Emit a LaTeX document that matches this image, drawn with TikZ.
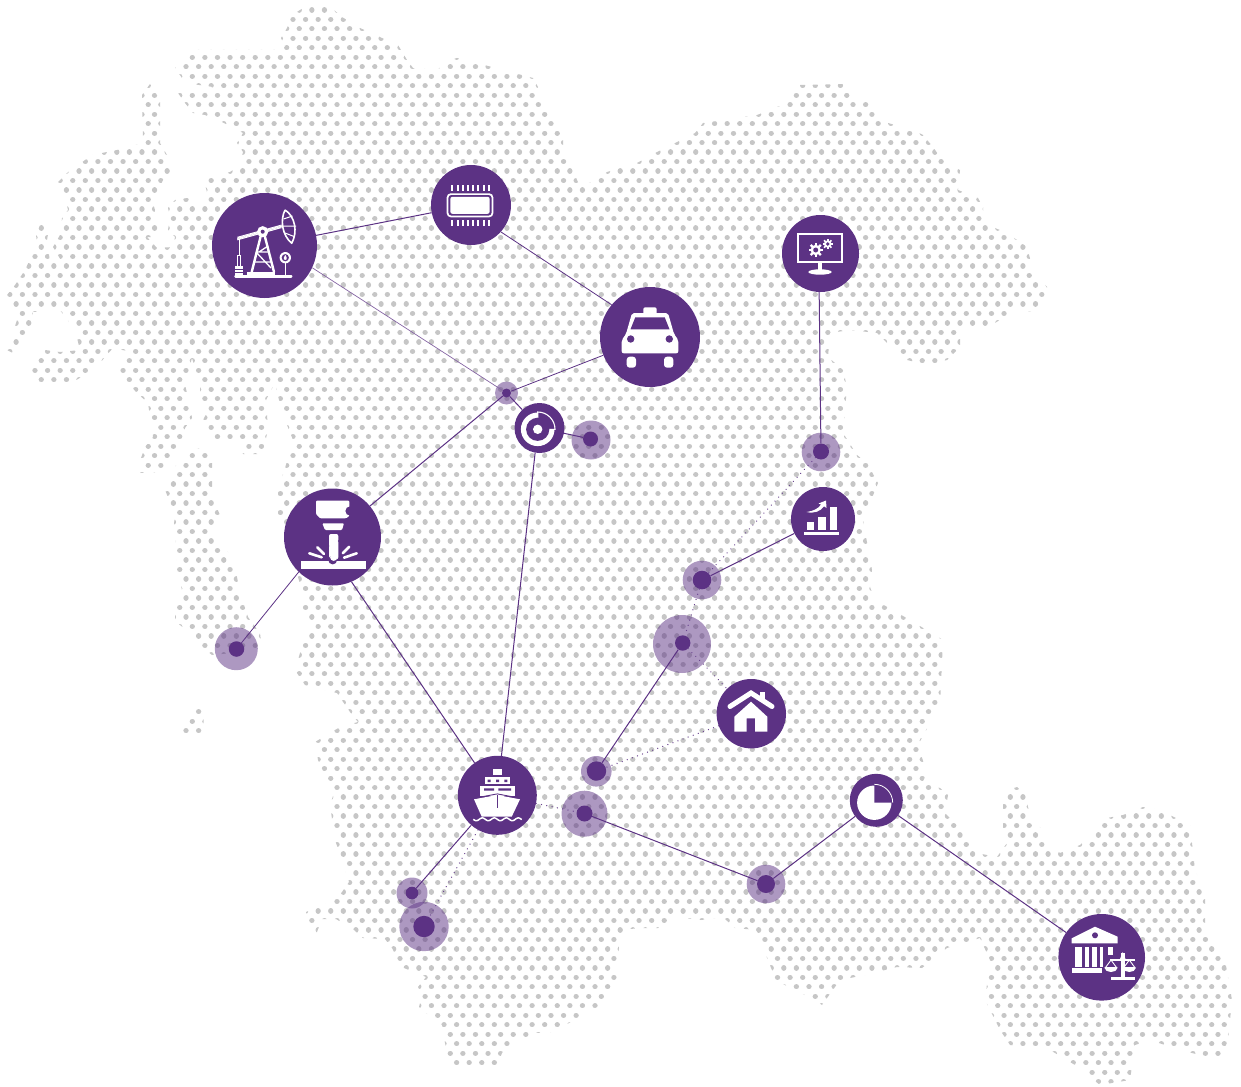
\documentclass[tikz,border=0pt]{standalone}
\usetikzlibrary{calc}
\definecolor{purp}{HTML}{5C3284}
\definecolor{dotgrey}{HTML}{C6C6C6}
\tikzset{
  hub/.style={circle,fill=purp,draw=none,inner sep=0pt,minimum size=#1},
  halo/.style={circle,fill=purp,fill opacity=.5,draw=none,inner sep=0pt,minimum size=#1},
  core/.style={circle,fill=purp,draw=none,inner sep=0pt,minimum size=#1},
  link/.style={draw=purp,line width=1pt},
  thinlink/.style={draw=purp!75,line width=.7pt},
  dotlink/.style={draw=purp!90,line width=1.4pt,line cap=round,dash pattern=on 0.01pt off 5.4pt},
  dotrow/.style={draw=dotgrey,line width=5.3pt,line cap=round,dash pattern=on 0.01pt off 12.575pt},
  ic/.style={fill=white,draw=none},
  cut/.style={fill=purp,draw=none},
  icl/.style={draw=white,line width=#1},
  cutl/.style={draw=purp,line width=#1}
}
\newcommand{\gearshape}[4]{% x,y,r,hole
  \foreach \ang in {0,45,...,315}{\draw[icl=#4*0.9] (#1,#2) -- ($(#1,#2)+(\ang:#3)$);}
  \fill[ic] (#1,#2) circle [radius=#3*0.72];
  \fill[cut] (#1,#2) circle [radius=#4];
}
\begin{document}
\begin{tikzpicture}[x=1pt,y=-1pt]
\useasboundingbox (0,0) rectangle (1241,1086);
% ---------- dotted map
\begin{scope}
\clip (312,4)--(300,10)--(292,15)--(287,28)--(281,38)--(285,47)--(278,50)--(250,50)--(198,50)--(190,53)--(175,68)--(182,78)--(192,84)--(213,87)--(205,92)--(178,93)--(185,103)--(193,113)--(205,115)--(222,122)--(243,133)--(237,143)--(243,152)--(240,165)--(230,172)--(208,178)--(205,185)--(207,192)--(200,203)--(187,198)--(175,200)--(168,208)--(170,217)--(168,230)--(175,237)--(173,247)--(157,248)--(147,237)--(157,237)--(160,227)--(153,218)--(155,210)--(152,200)--(157,192)--(163,180)--(170,172)--(167,155)--(160,143)--(160,100)--(150,84)--(142,95)--(143,143)--(117,150)--(92,155)--(67,173)--(58,182)--(63,190)--(68,210)--(62,218)--(60,235)--(53,247)--(62,262)--(50,262)--(47,240)--(50,222)--(40,225)--(36,235)--(38,250)--(32,255)--(25,270)--(15,285)--(7,295)--(9,300)--(13,312)--(17,320)--(12,335)--(7,350)--(13,353)--(22,343)--(32,330)--(33,312)--(60,310)--(75,330)--(77,338)--(80,350)--(60,352)--(45,350)--(37,357)--(30,370)--(37,385)--(68,385)--(88,373)--(100,363)--(105,357)--(113,348)--(132,352)--(118,370)--(128,383)--(137,393)--(148,403)--(150,417)--(152,423)--(153,437)--(145,447)--(141,458)--(140,473)--(160,472)--(178,450)--(185,428)--(192,418)--(190,405)--(185,385)--(188,372)--(192,358)--(196,372)--(200,385)--(200,400)--(207,412)--(203,420)--(212,437)--(215,442)--(240,444)--(243,454)--(262,454)--(268,430)--(266,400)--(275,383)--(279,400)--(285,420)--(293,440)--(290,452)--(278,490)--(278,513)--(302,590)--(302,610)--(312,622)--(300,653)--(295,670)--(305,685)--(325,690)--(337,693)--(350,712)--(358,722)--(340,727)--(315,742)--(318,760)--(325,775)--(335,790)--(330,805)--(335,840)--(342,860)--(349,882)--(342,892)--(335,900)--(306,912)--(308,920)--(311,937)--(317,932)--(322,919)--(336,919)--(354,930)--(363,938)--(385,939)--(392,948)--(397,958)--(404,968)--(426,977)--(418,987)--(422,995)--(419,1007)--(426,1013)--(442,1025)--(445,1043)--(447,1053)--(454,1066)--(497,1066)--(502,1053)--(511,1043)--(536,1033)--(551,1032)--(569,1023)--(579,1017)--(597,1007)--(604,997)--(610,988)--(617,977)--(617,960)--(619,948)--(617,937)--(629,929)--(644,928)--(658,928)--(676,917)--(701,920)--(715,918)--(725,919)--(735,928)--(756,930)--(761,938)--(767,958)--(776,980)--(785,985)--(815,1000)--(822,1005)--(840,980)--(865,975)--(897,967)--(922,968)--(947,948)--(980,938)--(990,960)--(985,1000)--(1000,1030)--(1010,1045)--(1050,1050)--(1075,1065)--(1100,1085)--(1130,1080)--(1135,1045)--(1150,1040)--(1180,1050)--(1220,1060)--(1228,1040)--(1232,1000)--(1225,960)--(1205,925)--(1205,895)--(1195,870)--(1190,825)--(1160,810)--(1143,807)--(1123,815)--(1107,818)--(1097,830)--(1080,845)--(1060,853)--(1048,843)--(1043,830)--(1032,820)--(1028,807)--(1025,795)--(1017,787)--(1008,790)--(1003,803)--(1003,827)--(1007,843)--(1002,850)--(997,857)--(977,853)--(970,845)--(968,837)--(945,813)--(948,795)--(940,788)--(922,783)--(927,773)--(925,767)--(918,745)--(940,705)--(943,640)--(910,620)--(875,600)--(870,587)--(872,570)--(863,520)--(878,483)--(867,463)--(857,455)--(843,433)--(847,387)--(843,370)--(828,357)--(830,333)--(850,330)--(877,333)--(887,343)--(907,360)--(927,365)--(947,360)--(960,347)--(960,330)--(988,327)--(1017,310)--(1035,312)--(1047,297)--(1047,287)--(1033,270)--(1027,247)--(1007,233)--(983,223)--(983,207)--(978,198)--(958,190)--(960,170)--(953,167)--(940,157)--(933,147)--(923,135)--(913,130)--(888,123)--(877,113)--(868,103)--(850,95)--(843,84)--(800,85)--(793,95)--(788,103)--(777,107)--(757,115)--(703,123)--(695,133)--(675,143)--(657,152)--(637,163)--(607,172)--(600,178)--(580,187)--(572,168)--(567,160)--(563,147)--(563,138)--(557,125)--(548,113)--(542,100)--(537,97)--(538,87)--(533,78)--(503,70)--(477,63)--(457,58)--(450,60)--(437,70)--(413,68)--(407,60)--(398,45)--(382,38)--(360,28)--(342,17)--(327,4)--cycle
(192,448)--(212,450)--(212,497)--(220,515)--(213,530)--(220,543)--(228,552)--(233,567)--(237,577)--(240,593)--(243,602)--(248,617)--(260,633)--(262,650)--(212,655)--(202,647)--(195,637)--(180,625)--(175,620)--(175,607)--(182,590)--(177,570)--(175,547)--(177,533)--(174,523)--(175,517)--(170,502)--(165,490)--(173,480)--(176,465)--cycle
(196,706)--(204,710)--(203,735)--(182,736)--(183,726)--(191,716)--cycle;
\foreach \k in {-6,...,108}{
  \pgfmathsetmacro{\rowy}{57.3+9.485*\k}
  \pgfmathsetmacro{\rowx}{3.525+(mod(\k+6,2)==1 ? 6.29 : 0)}
  \draw[dotrow] (\rowx,\rowy) -- (1241,\rowy);
}
\end{scope}
% ---------- halos and dots
\node[halo=23pt] (h1) at (506.5,393) {};      \node[core=9pt]  (d1) at (506.5,393) {};
\node[halo=39pt] (h2) at (591,440) {};        \node[core=15pt] (d2) at (590.5,439) {};
\node[halo=43pt] (h3) at (236.3,648.7) {};    \node[core=15.5pt] (d3) at (236.5,649) {};
\node[halo=38.6pt] (h4) at (821,452) {};      \node[core=16pt] (d4) at (821,451.5) {};
\node[halo=38.6pt] (h5) at (702,580) {};      \node[core=18.6pt] (d5) at (702,580) {};
\node[halo=58pt] (h6) at (682,644) {};        \node[core=15.4pt] (d6) at (682.7,643) {};
\node[halo=30.6pt] (h7) at (596.3,771.3) {};  \node[core=19.4pt] (d7) at (596.5,771) {};
\node[halo=46pt] (h8) at (584.5,813.7) {};    \node[core=16pt] (d8) at (584.5,813.5) {};
\node[halo=31pt] (h9) at (412,893) {};        \node[core=12.6pt] (d9) at (412,893) {};
\node[halo=49.4pt] (h10) at (424,926.5) {};   \node[core=21.4pt] (d10) at (424,926.5) {};
\node[halo=38.6pt] (h11) at (766,884) {};     \node[core=18pt] (d11) at (766,884) {};
% ---------- hubs
\node[hub=105pt] (oil) at (264.5,245.5) {};
\node[hub=80pt] (chip) at (471,205) {};
\node[hub=100pt] (taxi) at (650,337) {};
\node[hub=77pt] (monitor) at (820.5,253.5) {};
\node[hub=50pt] (target) at (539.5,428) {};
\node[hub=97pt] (mill) at (332.5,537) {};
\node[hub=64pt] (bars) at (823,519) {};
\node[hub=69.4pt] (house) at (751.3,713.7) {};
\node[hub=79pt] (ship) at (497.3,795.3) {};
\node[hub=53pt] (pie) at (876.3,800.3) {};
\node[hub=86.6pt] (bank) at (1101.7,957.3) {};
% ---------- connectors
\draw[link] (oil) -- (chip);
\draw[link,line width=.8pt] (chip.-42) -- (taxi.140.8);
\draw[thinlink] (oil.-25) -- (d1);
\draw[link,line width=.8pt] (taxi) -- (d1);
\draw[link] (d1) -- (mill);
\draw[link] (d1) -- (target);
\draw[link] (target) -- (d2);
\draw[link] (target.-100) -- (ship.84.7);
\draw[link,line width=.8pt] (mill.-134) -- (d3);
\draw[link] (mill.-67) -- (ship.125.6);
\draw[link] (monitor.-92) -- (d4);
\draw[link] (bars) -- (d5);
\draw[link] (d6) -- (d7);
\draw[link] (ship) -- (d9);
\draw[link] (d8) -- (d11);
\draw[link] (d11) -- (pie);
\draw[link] (pie) -- (bank);
\draw[dotlink] (d4) -- (d5);
\draw[dotlink] (d5) -- (d6);
\draw[dotlink] (d6) -- (house);
\draw[dotlink] (house) -- (d7);
\draw[dotlink] (ship) -- (d8);
\draw[dotlink] (ship) -- (d10);
% ---------- oil pump icon
\fill[ic,rounded corners=1pt] (234.3,275) rectangle (292.3,277.8);
\fill[ic] (246.7,271.7) rectangle (275,275);
\draw[icl=2.4] (261,235) -- (251.7,272);
\draw[icl=2.4] (264.5,235) -- (274,272);
\draw[icl=1.3] (256,252) -- (269.5,252) (254,262) -- (272,262) (256,252) -- (271,268) (268,246) -- (259,252);
\draw[icl=.9] (237.3,237.3) -- (281.7,225) (237.3,238.6) -- (281.7,226.3) (237.3,239.9) -- (281.7,227.6);
\fill[ic] (262.7,231.7) circle [radius=5.6];
\fill[cut] (262.7,231.7) circle [radius=2];
\draw[icl=1.6,line join=round] (285,210) .. controls (295,216) and (298,232) .. (291.7,243.3) .. controls (282,235) and (280,220) .. (285,210);
\draw[icl=1] (283,226) -- (296,226) (283.5,219) -- (292.5,216) (285,233) -- (294,236.5);
\draw[icl=.9] (239,238.5) -- (239,255);
\fill[ic] (235,266) rectangle (243.3,275);
\draw[cutl=.6] (235,269) -- (243.3,269) (235,272) -- (243.3,272);
\draw[icl=.9] (237.4,255.5) rectangle (240.6,266);
\draw[icl=1.5] (285.3,262) -- (285.3,275);
\fill[ic] (285.3,257.7) circle [radius=5.7];
\fill[cut] (285.3,257.7) circle [radius=3.6];
\fill[ic] (285.3,254.8) .. controls (284,257) and (283.5,258) .. (284,259.3) .. controls (284.6,260.2) and (286,260.2) .. (286.6,259.3) .. controls (287.1,258) and (286.6,257) .. (285.3,254.8);
% ---------- chip icon
\fill[ic,rounded corners=4pt] (446.7,193.3) rectangle (493.3,217.3);
\fill[cut,rounded corners=3pt] (448.4,195) rectangle (491.6,215.6);
\fill[ic,rounded corners=2pt] (450.4,196.8) rectangle (489.6,213.8);
\foreach \i in {0,...,7}{
  \fill[ic] ({451.3+5.2*\i},185) rectangle ({453.3+5.2*\i},190.7);
  \fill[ic] ({451.3+5.2*\i},220) rectangle ({453.3+5.2*\i},225.7);
}
% ---------- taxi icon
\fill[ic,rounded corners=2pt] (643.3,307.3) rectangle (656.7,316);
\fill[ic,rounded corners=2pt] (632,313) -- (668,313) -- (674,334) -- (678.3,340) -- (678.3,353.3) -- (621.7,353.3) -- (621.7,340) -- (626,334) -- cycle;
\fill[cut] (635.3,317.3) -- (664.7,317.3) -- (669.5,329.3) -- (630.5,329.3) -- cycle;
\fill[cut] (630.7,339) circle [radius=3.7];
\fill[cut] (669.3,339) circle [radius=3.7];
\fill[ic,rounded corners=3pt] (626.7,356.7) -- (636,356.7) -- (636,367.7) -- (626.7,367.7) -- cycle;
\fill[ic,rounded corners=3pt] (664,356.7) -- (673.3,356.7) -- (673.3,367.7) -- (664,367.7) -- cycle;
% ---------- monitor icon
\draw[icl=2.6] (798,234) rectangle (842,262);
\fill[ic] (818.3,263) rectangle (822.3,270);
\fill[ic] (820,272) ellipse [x radius=11.7,y radius=2.7];
\gearshape{815.7}{250}{7.2}{2.5}
\gearshape{827.7}{244}{5.2}{1.9}
% ---------- target icon
\fill[ic] (537.7,429.3) circle [radius=16.8];
\fill[cut] (537.7,429.3) -- (537.7,410.5) arc [start angle=-90,end angle=0,radius=18.8] -- cycle;
\draw[icl=1.1] (537.7,429.3) -- (537.7,412) arc [start angle=-90,end angle=0,radius=17.3] -- cycle;
\fill[cut] (537.7,429.3) circle [radius=11.6];
\fill[ic] (537.7,429.3) circle [radius=4.7];
% ---------- milling icon
\fill[ic,rounded corners=1pt] (316,500.7) -- (349.3,500.7) -- (349.3,516) -- (346,518.3) -- (320,518.3) -- (316,514) -- cycle;
\fill[cut] (350,511) circle [radius=4.6];
\fill[ic,rounded corners=1pt] (322.3,523.3) -- (344,523.3) -- (342,530) -- (325,530) -- cycle;
\fill[ic,rounded corners=2pt] (329,534) -- (338.3,534) -- (338.3,559.3) -- (329,559.3) -- cycle;
\fill[cut] (339.5,541) circle [radius=1.6];
\fill[cut] (327.8,546) circle [radius=1.6];
\draw[icl=2.6,line cap=round] (317.3,547.3) -- (324,554);
\draw[icl=2.6,line cap=round] (309.3,553.3) -- (321.7,557.3);
\draw[icl=2.6,line cap=round] (349.3,546.7) -- (342.7,553.3);
\draw[icl=2.6,line cap=round] (356.7,553.3) -- (344,557.7);
\fill[ic] (301,561) rectangle (365.7,569.3);
\fill[cut] (332.7,560) circle [radius=4.4];
\fill[ic] (329,550) rectangle (338.3,556) ;
\fill[ic] (333.7,557.3) circle [radius=3.6];
% ---------- bars icon
\fill[ic] (804,532) rectangle (839,535);
\fill[ic] (807.3,522) rectangle (814,530);
\fill[ic] (818.3,517.3) rectangle (825.7,530);
\fill[ic] (830,507.3) rectangle (836.7,530);
\fill[ic] (806.7,512) .. controls (814,511) and (819,508) .. (821,504.5) -- (818.5,503.5) -- (826,500.5) -- (826.5,508) -- (824,506.3) .. controls (821,511) and (814,514) .. (806.7,512) -- cycle;
% ---------- house icon
\fill[ic] (760,692.3) rectangle (765,701);
\draw[icl=5,line cap=round,line join=miter] (730,706.5) -- (751,693) -- (772,706.5);
\fill[ic] (734.3,716.7) -- (751,701.7) -- (767.3,716.7) -- (767.3,731.7) -- (755,731.7) -- (755,718.3) -- (746.7,718.3) -- (746.7,731.7) -- (734.3,731.7) -- cycle;
% ---------- ship icon
\fill[ic] (493.3,769.3) rectangle (501.7,775);
\fill[ic] (485,777.3) rectangle (510,784);
\fill[cut] (487.5,779.5) rectangle (490.5,782) (496,779.5) rectangle (499,782) (504.3,779.5) rectangle (507.3,782);
\fill[ic] (480,786) rectangle (515,795.7);
\fill[cut] (484,788.3) rectangle (494,790.7) (498.3,788.3) rectangle (511,790.7);
\fill[ic] (474,799.3) -- (497.3,795) -- (520,799.3) -- (511.7,816.7) -- (481.7,816.7) -- cycle;
\draw[cutl=.9] (473,798.4) -- (497.3,793.9) -- (521,798.4);
\draw[cutl=1] (497.3,795) -- (497.3,808.3);
\draw[icl=1.5] plot[domain=473.3:521.7,samples=60] (\x,{819.3+1.4*sin((\x-473.3)*30)});
% ---------- pie icon
\fill[ic] (874.3,802.7) circle [radius=17.2];
\fill[cut] (874.3,802.7) -- (874.3,783.5) arc [start angle=-90,end angle=0,radius=19.2] -- cycle;
\draw[icl=.8] (874.3,802.7) ++(0,-18.4) arc [start angle=-90,end angle=0,radius=18.4];
% ---------- bank icon
\fill[ic] (1071.7,938.3) -- (1095,926.7) -- (1117.7,936.7) -- (1117.7,943.3) -- (1071.7,943.3) -- cycle;
\fill[cut] (1095,935.3) circle [radius=3];
\fill[ic] (1075,946.7) rectangle (1081.7,967.3);
\fill[ic] (1085,946.7) rectangle (1089.3,967.3);
\fill[ic] (1092.3,946.7) rectangle (1096.7,967.3);
\fill[ic] (1099.7,946.7) rectangle (1103,967.3);
\fill[ic] (1107.7,946.7) rectangle (1113.3,955);
\fill[ic] (1071.7,968.3) rectangle (1101.7,973.3);
\fill[ic] (1120.7,953) -- (1124.7,953) -- (1124.7,976.7) -- (1120.7,976.7) -- cycle;
\fill[ic] (1122.7,952) -- (1125.5,959) -- (1120,959) -- cycle;
\fill[ic] (1110.7,976.7) rectangle (1135,980);
\draw[icl=1.2] (1110,960) -- (1135,960);
\foreach \cx in {1111,1129.3}{
  \draw[icl=.9] (\cx,960) -- (\cx-5.5,967.5) -- (\cx+5.5,967.5) -- cycle;
  \fill[ic] (\cx-6.8,967.5) .. controls (\cx-6,973.5) and (\cx+6,973.5) .. (\cx+6.8,967.5) -- cycle;
}
\end{tikzpicture}
\end{document}
